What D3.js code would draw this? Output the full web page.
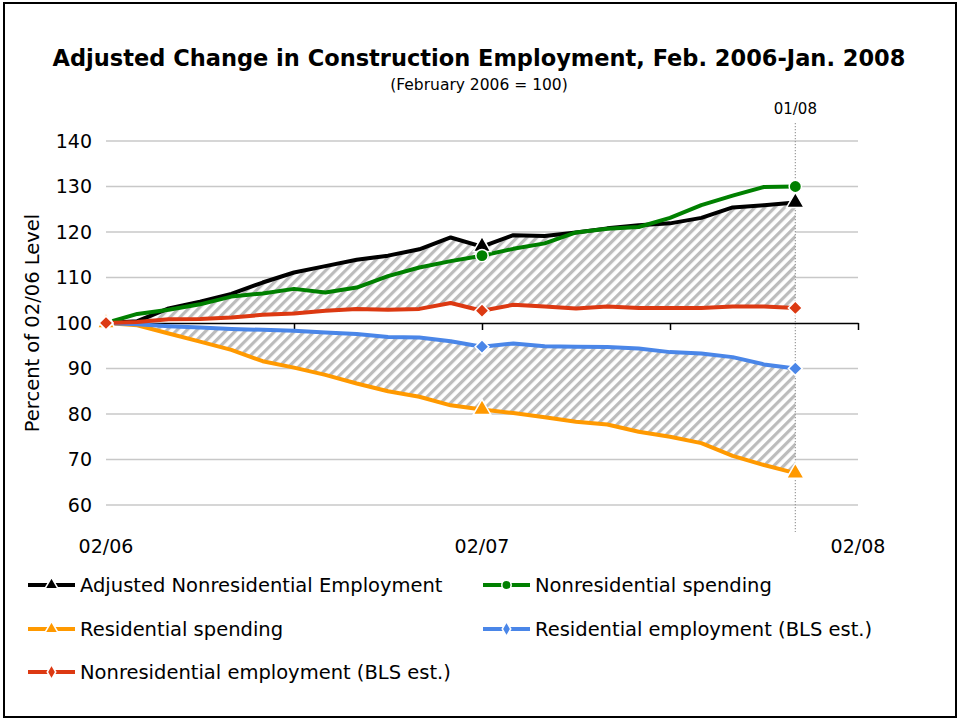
<!DOCTYPE html>
<html><head><meta charset="utf-8">
<script src="https://cdn.jsdelivr.net/npm/d3@7"></script>
<style>
html,body{margin:0;padding:0;background:#fff;}
svg{display:block;font-family:"DejaVu Sans",Verdana,sans-serif;}
</style></head>
<body>
<svg id="chart" width="960" height="721"></svg>
<script>
// ---- data (index 0 = Feb 2006, monthly) ----
const monthIndex = d3.range(23);
const adjNonresEmployment = [100, 100.4, 103.2, 104.7, 106.4, 108.9, 111.1, 112.5, 113.9, 114.8, 116.2, 118.8, 116.8, 119.3, 119.1, 119.9, 120.8, 121.5, 121.9, 123.1, 125.4, 125.9, 126.5];
const nonresSpending = [100, 102.0, 102.9, 104.1, 105.8, 106.5, 107.5, 106.7, 107.8, 110.3, 112.2, 113.6, 114.8, 116.3, 117.5, 119.9, 120.7, 121.1, 123.1, 125.9, 128.0, 129.9, 130.0];
const resSpending = [100, 99.5, 97.7, 95.9, 94.1, 91.6, 90.2, 88.6, 86.7, 85.0, 83.8, 81.9, 81.0, 80.2, 79.3, 78.3, 77.7, 76.1, 75.0, 73.6, 70.8, 68.8, 67.0];
const resEmployment = [100, 99.7, 99.3, 99.0, 98.7, 98.5, 98.3, 97.9, 97.6, 96.9, 96.8, 96.0, 94.8, 95.5, 94.9, 94.8, 94.7, 94.4, 93.6, 93.3, 92.5, 90.9, 90.0];
const nonresEmployment = [100, 100.2, 100.8, 100.9, 101.2, 101.8, 102.1, 102.7, 103.1, 102.9, 103.1, 104.4, 102.7, 104.0, 103.6, 103.2, 103.6, 103.3, 103.3, 103.3, 103.6, 103.6, 103.3];
const seriesNames = ["Adjusted Nonresidential Employment", "Nonresidential spending", "Residential spending", "Residential employment (BLS est.)", "Nonresidential employment (BLS est.)"];
const yTicks = [60, 70, 80, 90, 100, 110, 120, 130, 140];
const xTickPos = [0, 6, 12, 18, 24];
const xTickLabels = ["02/06", "", "02/07", "", "02/08"];
const markerIdx = [0, 12, 22];
const refLineIdx = 22;
const refLineLabel = "01/08";
const titleText = "Adjusted Change in Construction Employment, Feb. 2006-Jan. 2008";
const subtitleText = "(February 2006 = 100)";
const yTitle = "Percent of 02/06 Level";

const series = [
  {name: seriesNames[0], values: adjNonresEmployment, color: "#000000", marker: "triangle"},
  {name: seriesNames[1], values: nonresSpending, color: "#008000", marker: "circle"},
  {name: seriesNames[2], values: resSpending, color: "#ff9900", marker: "triangle"},
  {name: seriesNames[3], values: resEmployment, color: "#4a86e8", marker: "diamond"},
  {name: seriesNames[4], values: nonresEmployment, color: "#dc3912", marker: "diamond"}
];

const svg = d3.select("#chart");
const x = d3.scaleLinear().domain([0, 24]).range([106, 858]);
const y = d3.scaleLinear().domain([60, 140]).range([505, 141]);

// border
svg.append("rect").attr("x", 4).attr("y", 3).attr("width", 952).attr("height", 714)
  .attr("fill", "#fff").attr("stroke", "#000").attr("stroke-width", 2);

// hatch pattern
const defs = svg.append("defs");
const pat = defs.append("pattern").attr("id", "hatch").attr("patternUnits", "userSpaceOnUse")
  .attr("width", 7).attr("height", 7).attr("patternTransform", "rotate(45)");
pat.append("rect").attr("width", 7).attr("height", 7).attr("fill", "#fff");
pat.append("rect").attr("x", 0).attr("y", 0).attr("width", 3.2).attr("height", 7).attr("fill", "#bcbcbc");

// title
svg.append("text").attr("x", 479).attr("y", 66).attr("text-anchor", "middle")
  .attr("font-size", 22.5).attr("font-weight", "bold").text(titleText);
svg.append("text").attr("x", 479).attr("y", 90).attr("text-anchor", "middle")
  .attr("font-size", 15.5).text(subtitleText);

// gridlines
svg.append("g").selectAll("line").data(yTicks.filter(d => d !== 100)).join("line")
  .attr("x1", x(0)).attr("x2", x(24)).attr("y1", d => y(d)).attr("y2", d => y(d))
  .attr("stroke", "#c8c8c8").attr("stroke-width", 1.5);

// y labels
const yAxis = d3.axisLeft(y).tickValues(yTicks).tickSize(0).tickPadding(14);
const gy = svg.append("g").attr("transform", `translate(${x(0)},0)`).call(yAxis);
gy.select(".domain").remove();
gy.selectAll("text").attr("font-size", 19).attr("font-family", "DejaVu Sans").attr("fill", "#000");

svg.append("text").attr("transform", `translate(39,${y(100)}) rotate(-90)`)
  .attr("text-anchor", "middle").attr("font-size", 19.5).text(yTitle);

// hatched areas
const upper = monthIndex.map(i => ({i, top: adjNonresEmployment[i], bot: nonresEmployment[i]}));
const lower = monthIndex.map(i => ({i, top: resEmployment[i], bot: resSpending[i]}));
const area = d3.area().x(d => x(d.i)).y0(d => y(d.bot)).y1(d => y(d.top));
svg.append("path").datum(upper).attr("d", area).attr("fill", "url(#hatch)");
svg.append("path").datum(lower).attr("d", area).attr("fill", "url(#hatch)");

// x axis at 100
const xAxis = d3.axisBottom(x).tickValues(xTickPos).tickFormat("").tickSize(7).tickSizeOuter(0);
const gx = svg.append("g").attr("transform", `translate(0,${y(100)})`).call(xAxis);
gx.select(".domain").attr("stroke", "#000").attr("stroke-width", 1.5);
gx.selectAll(".tick line").attr("stroke", "#000").attr("stroke-width", 1.5);

// x labels at bottom
svg.append("g").selectAll("text").data(xTickPos.map((p, k) => ({p, l: xTickLabels[k]})).filter(d => d.l)).join("text")
  .attr("x", d => x(d.p)).attr("y", 553).attr("text-anchor", "middle").attr("font-size", 19).text(d => d.l);

// reference line
svg.append("line").attr("x1", x(refLineIdx)).attr("x2", x(refLineIdx)).attr("y1", 123).attr("y2", 532)
  .attr("stroke", "#9a9a9a").attr("stroke-width", 1.2).attr("stroke-dasharray", "1.2,1.8");
svg.append("text").attr("x", x(refLineIdx)).attr("y", 114).attr("text-anchor", "middle")
  .attr("font-size", 15).text(refLineLabel);

// lines
const line = d3.line().x((d, i) => x(i)).y(d => y(d));
series.forEach(s => {
  svg.append("path").datum(s.values).attr("d", line).attr("fill", "none")
    .attr("stroke", s.color).attr("stroke-width", 4).attr("stroke-linejoin", "round");
});

function drawMarker(g, type, cx, cy, color, size, squareDiamond) {
  let sym;
  if (type === "triangle") sym = d3.symbol().type(d3.symbolTriangle).size(size * 1.1);
  else if (type === "circle") sym = d3.symbol().type(d3.symbolCircle).size(size);
  else if (squareDiamond) sym = d3.symbol().type(d3.symbolSquare).size(size * 0.8);
  else sym = d3.symbol().type(d3.symbolDiamond).size(size * 0.9);
  const rot = (type === "diamond" && squareDiamond) ? " rotate(45)" : "";
  g.append("path").attr("d", sym()).attr("transform", `translate(${cx},${cy})${rot}`)
    .attr("fill", color).attr("stroke", "#fff").attr("stroke-width", 1.5);
}

series.forEach(s => {
  const g = svg.append("g");
  markerIdx.forEach(i => drawMarker(g, s.marker, x(i), y(s.values[i]), s.color, 120, true));
});

// legend
const legendPos = [
  {lx: 28, ly: 585}, {lx: 483, ly: 585},
  {lx: 28, ly: 629}, {lx: 483, ly: 629},
  {lx: 28, ly: 672}
];
series.forEach((s, k) => {
  const p = legendPos[k];
  const g = svg.append("g");
  g.append("line").attr("x1", p.lx).attr("x2", p.lx + 47).attr("y1", p.ly).attr("y2", p.ly)
    .attr("stroke", s.color).attr("stroke-width", 4);
  drawMarker(g, s.marker, p.lx + 23.5, p.ly, s.color, 70, false);
  g.append("text").attr("x", p.lx + 52).attr("y", p.ly).attr("dy", "0.35em")
    .attr("font-size", 19.5).text(s.name);
});
</script>
</body></html>
